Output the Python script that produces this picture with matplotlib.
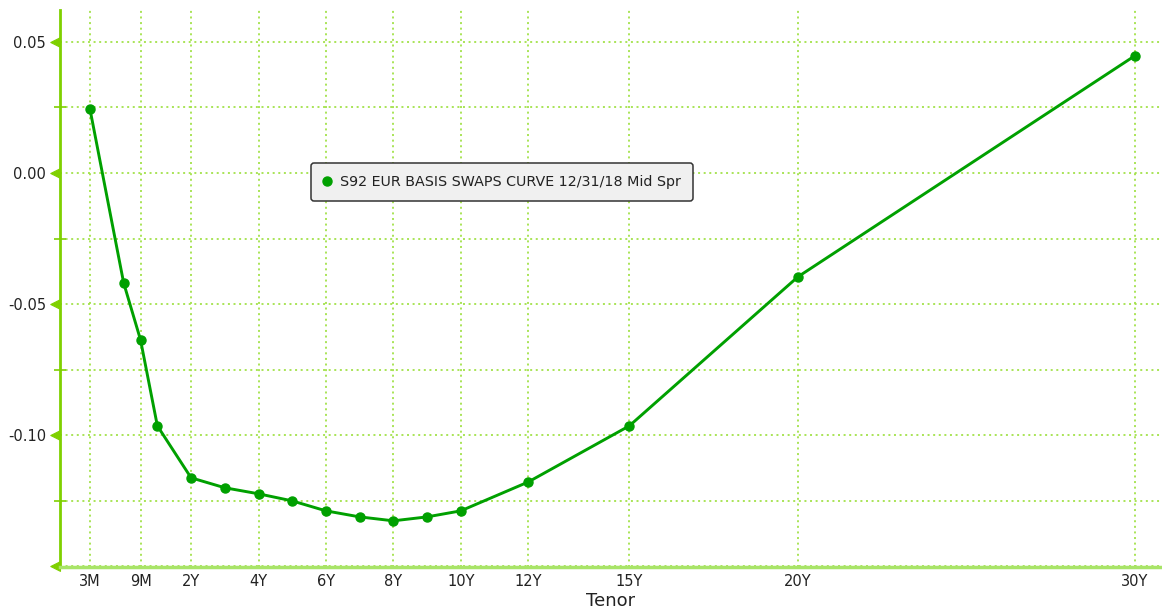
import matplotlib.pyplot as plt
import numpy as np
from matplotlib.path import Path

# tenor curve, spread values
tenor_years = [0.25, 0.5, 0.75, 1, 2, 3, 4, 5, 6, 7, 8, 9, 10, 12, 15, 20, 30]
spread = [0.0244, -0.0419, -0.0636, -0.0964, -0.1162, -0.1200, -0.1223,
          -0.1250, -0.1288, -0.1311, -0.1326, -0.1311, -0.1288, -0.1178,
          -0.0964, -0.0396, 0.0447]

tick_years = [0.25, 0.75, 2, 4, 6, 8, 10, 12, 15, 20, 30]
tick_labels = ['3M', '9M', '2Y', '4Y', '6Y', '8Y', '10Y', '12Y', '15Y', '20Y', '30Y']

y_ticks = [-0.15, -0.10, -0.05, 0.00, 0.05]
y_labels = ['', '-0.10', '-0.05', '0.00', '0.05']

series_name = 'S92 EUR BASIS SWAPS CURVE 12/31/18 Mid Spr'

# Bloomberg-style tenor axis: short end stretched, linear in years after 2Y
knots_t = np.array([0, 0.25, 0.5, 0.75, 1, 2, 40])
knots_p = np.array([-2, -1, 0, 0.5, 1, 2, 40])


def fwd(x):
    return np.interp(x, knots_t, knots_p)


def inv(p):
    return np.interp(p, knots_p, knots_t)


line_col = '#00A000'
axis_col = '#7FD000'
grid_col = '#A3E24A'
text_col = '#222222'

fig = plt.figure(figsize=(11.62, 6.16), dpi=100)
ax = fig.add_axes([60 / 1162, 49 / 616, 1102 / 1162, 557 / 616])
ax.set_xscale('function', functions=(fwd, inv))

ax.plot(tenor_years, spread, color=line_col, linewidth=2.1, marker='o',
        markersize=6.5, label=series_name, zorder=3)

ax.set_xlim(0.028, 30.8)
ax.set_ylim(-0.1502, 0.0621)

ax.set_xticks(tick_years, tick_labels)
ax.set_yticks(y_ticks, y_labels)
ax.set_yticks([-0.125, -0.075, -0.025, 0.025], minor=True)
ax.xaxis.set_minor_locator(plt.NullLocator())

ax.grid(True, which='both', color=grid_col, linestyle=(0, (1.1, 2.0)), linewidth=1.3)
ax.set_axisbelow(True)

for s in ['top', 'right']:
    ax.spines[s].set_visible(False)
ax.spines['left'].set_color(axis_col)
ax.spines['left'].set_linewidth(2)
ax.spines['bottom'].set_color('#A8E468')
ax.spines['bottom'].set_linewidth(2.5)

ax.tick_params(axis='x', length=0, pad=5, labelsize=10.5, labelcolor=text_col)
ax.tick_params(axis='y', which='major', length=0, pad=10, labelsize=10.5,
               labelcolor=text_col)
ax.tick_params(axis='y', which='minor', direction='inout', length=8,
               width=1.2, color=axis_col)

# triangular major tick markers pointing left of the axis
tri = Path([(0, 0.5), (-1, 0), (0, -0.5), (0, 0.5)])
for t in ax.yaxis.get_major_ticks():
    t.tick1line.set_marker(tri)
    t.tick1line.set_markersize(14)
    t.tick1line.set_markerfacecolor(axis_col)
    t.tick1line.set_markeredgecolor(axis_col)
    t.tick1line.set_clip_on(False)

ax.set_xlabel('Tenor', fontsize=13, color=text_col, labelpad=2)

leg = ax.legend(loc='upper left', bbox_to_anchor=(0.2278, 0.7253),
                borderaxespad=0, fontsize=10.3, frameon=True, fancybox=True,
                facecolor='#F0F0F0', edgecolor='#333333', framealpha=1,
                handlelength=0.6, handletextpad=0.55, borderpad=0.85)
leg.get_frame().set_linewidth(1.1)
for h in leg.legend_handles:
    h.set_linestyle('None')
for t in leg.get_texts():
    t.set_color(text_col)

fig.savefig('out.png', dpi=100)
